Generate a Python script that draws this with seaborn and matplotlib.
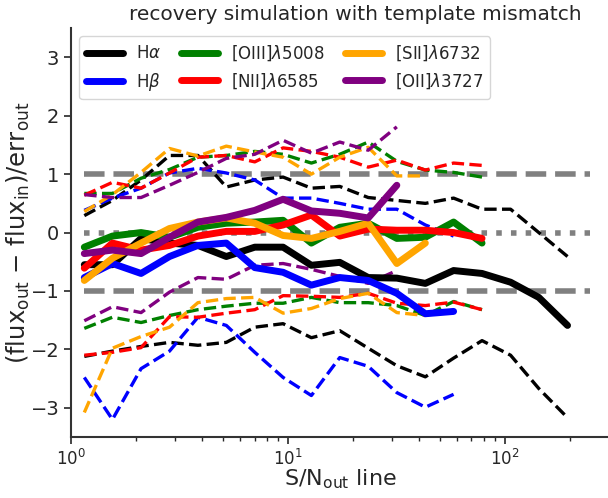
import numpy as np
import pandas as pd
import matplotlib
matplotlib.use("Agg")
import matplotlib.pyplot as plt
import seaborn as sns

# S/N bin positions
sn = [1.15, 1.55, 2.10, 2.84, 3.84, 5.19, 7.02, 9.48, 12.8, 17.3, 23.4, 31.7,
      42.9, 57.9, 78.3, 106, 143, 194]

ha_med = [-0.55, -0.55, -0.10, -0.18, -0.22, -0.41, -0.25, -0.25, -0.56, -0.51,
          -0.77, -0.78, -0.87, -0.65, -0.70, -0.85, -1.11, -1.59]
ha_hi = [0.29, 0.55, 0.90, 1.32, 1.32, 0.78, 0.90, 0.95, 0.76, 0.79, 0.60, 0.55,
         0.50, 0.59, 0.40, 0.40, 0.00, -0.41]
ha_lo = [-2.12, -2.03, -1.95, -1.88, -1.93, -1.88, -1.62, -1.56, -1.80, -1.68,
         -1.98, -2.28, -2.47, -2.15, -1.85, -2.10, -2.67, -3.17]

hb_med = [-0.77, -0.53, -0.70, -0.41, -0.22, -0.18, -0.60, -0.68, -0.90, -0.77,
          -0.82, -1.04, -1.39, -1.35]
hb_hi = [0.38, 0.59, 0.76, 1.02, 1.10, 1.02, 0.90, 0.59, 0.59, 0.50, 0.40, 0.40,
         0.13, -0.06]
hb_lo = [-2.48, -3.20, -2.33, -2.03, -1.45, -1.59, -2.05, -2.48, -2.79, -2.14,
         -2.29, -2.74, -2.99, -2.77]

oiii_med = [-0.25, -0.06, 0.00, -0.08, 0.09, 0.16, 0.18, 0.21, -0.18, 0.09, 0.16,
            -0.10, -0.08, 0.18, -0.18]
oiii_hi = [0.67, 0.67, 0.93, 1.08, 1.29, 1.32, 1.39, 1.34, 1.19, 1.34, 1.55, 1.22,
           1.07, 1.03, 0.95]
oiii_lo = [-1.64, -1.45, -1.54, -1.42, -1.32, -1.26, -1.21, -1.21, -1.11, -1.20,
           -1.20, -1.25, -1.42, -1.18, -1.32]

nii_med = [-0.61, -0.18, -0.30, -0.22, -0.06, 0.02, 0.02, 0.13, 0.30, -0.06, 0.06,
           0.04, 0.04, 0.00, -0.10]
nii_hi = [0.64, 0.86, 0.76, 1.02, 1.29, 1.32, 1.21, 1.45, 1.39, 1.29, 1.12, 1.24,
          1.07, 1.19, 1.15]
nii_lo = [-2.10, -2.05, -1.97, -1.44, -1.45, -1.38, -1.32, -1.08, -1.09, -1.11,
          -1.04, -1.21, -1.25, -1.19, -1.32]

sii_med = [-0.82, -0.44, -0.18, 0.07, 0.18, 0.25, 0.16, -0.05, -0.10, 0.02, 0.16,
           -0.53, -0.18]
sii_hi = [0.36, 0.65, 1.03, 1.44, 1.31, 1.48, 1.38, 1.29, 1.00, 1.29, 1.46, 0.97,
          0.97]
sii_lo = [-3.08, -1.98, -1.78, -1.62, -1.20, -1.13, -1.11, -1.38, -1.30, -1.13,
          -1.04, -1.37, -1.42]

oii_med = [-0.36, -0.30, -0.36, -0.08, 0.18, 0.26, 0.38, 0.57, 0.37, 0.33, 0.25,
           0.81]
oii_hi = [0.65, 0.60, 0.60, 0.81, 1.03, 1.27, 1.34, 1.58, 1.36, 1.55, 1.41, 1.81]
oii_lo = [-1.51, -1.27, -1.37, -1.02, -0.77, -0.80, -0.56, -0.53, -0.63, -0.75,
          -0.87, -0.65]

labels = [r"H$\alpha$", r"H$\beta$", r"[OIII]$\lambda$5008", r"[NII]$\lambda$6585",
          r"[SII]$\lambda$6732", r"[OII]$\lambda$3727"]
colors = ["black", "blue", "green", "red", "orange", "purple"]
meds = [ha_med, hb_med, oiii_med, nii_med, sii_med, oii_med]
his = [ha_hi, hb_hi, oiii_hi, nii_hi, sii_hi, oii_hi]
los = [ha_lo, hb_lo, oiii_lo, nii_lo, sii_lo, oii_lo]

ref_x = [1.15, 245]
ref_levels = [1, 0, -1]

sns.set_theme(style="ticks")
plt.rcParams['font.family'] = ['DejaVu Sans']
plt.rcParams['mathtext.fontset'] = 'dejavusans'

fig = plt.figure(figsize=(6.08, 4.98), dpi=100)
ax = fig.add_axes([0.117, 0.1225, 0.884, 0.821])

for lev in ref_levels:
    ls = ':' if lev == 0 else '--'
    sns.lineplot(x=ref_x, y=[lev, lev], ax=ax, color='gray', lw=4, linestyle=ls,
                 zorder=1)

handles = []
for lab, col, m, h, l in zip(labels, colors, meds, his, los):
    n = len(m)
    xs = sn[:n]
    sns.lineplot(x=xs, y=h, ax=ax, color=col, lw=2.4, linestyle='--', zorder=2)
    sns.lineplot(x=xs, y=l, ax=ax, color=col, lw=2.4, linestyle='--', zorder=2)
    sns.lineplot(x=xs, y=m, ax=ax, color=col, lw=5, zorder=3)
    handles.append(ax.lines[-1])

ax.set_xscale('log')
ax.set_xlim(1, 300)
ax.set_ylim(-3.5, 3.5)
ax.set_yticks([-3, -2, -1, 0, 1, 2, 3])
ax.tick_params(axis='x', which='major', labelsize=12, length=5, width=1.2)
ax.tick_params(axis='y', which='major', labelsize=14, length=5, width=1.2)
ax.tick_params(axis='x', which='minor', length=3, width=1)
sns.despine(ax=ax, top=True, right=True)
for s in ['left', 'bottom']:
    ax.spines[s].set_color('#333333')
    ax.spines[s].set_linewidth(1.5)

ax.set_xlabel(r"S/N$_{\rm out}$ line", fontsize=16, labelpad=-1)
ax.set_ylabel(r"(flux$_{\rm out}$ $-$ flux$_{\rm in}$)/err$_{\rm out}$", fontsize=17.5,
              labelpad=-1)
ax.set_title("recovery simulation with template mismatch", fontsize=14.5, x=0.528)

leg = ax.legend(handles, labels, loc='upper left', ncol=3, fontsize=12,
                frameon=True, handlelength=2.2, columnspacing=1.2,
                borderaxespad=0.5)

fig.savefig("out.png", dpi=100)
